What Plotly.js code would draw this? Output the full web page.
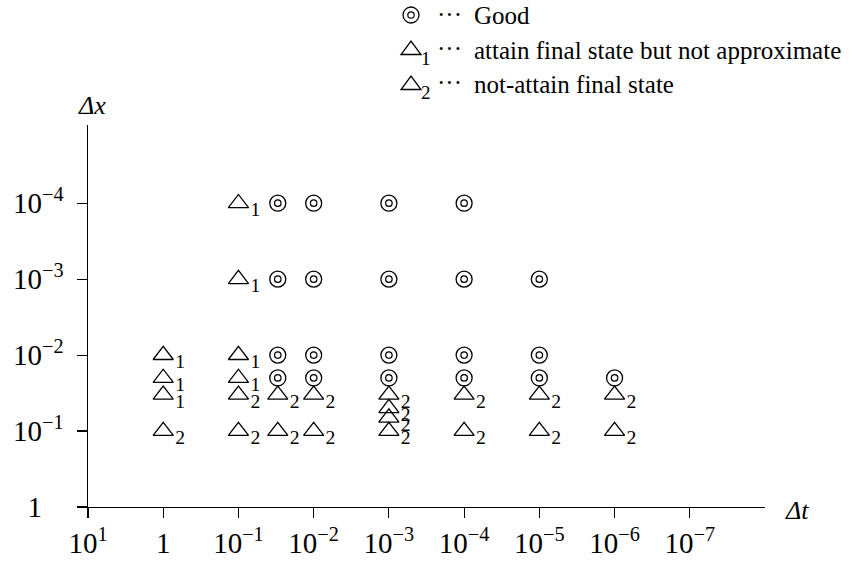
<!DOCTYPE html>
<html><head><meta charset="utf-8">
<script src="https://cdn.plot.ly/plotly-3.0.1.min.js"></script>
<style>html,body{margin:0;padding:0;background:#fff}#chart{width:857px;height:564px}</style>
</head><body><div id="chart"></div>
<script>
// ---- data (Δt, Δx pairs by outcome) ----
const goodDt = [0.03,0.03,0.03,0.03, 0.01,0.01,0.01,0.01, 1e-3,1e-3,1e-3,1e-3, 1e-4,1e-4,1e-4,1e-4, 1e-5,1e-5,1e-5, 1e-6];
const goodDx = [1e-4,1e-3,1e-2,2e-2, 1e-4,1e-3,1e-2,2e-2, 1e-4,1e-3,1e-2,2e-2, 1e-4,1e-3,1e-2,2e-2, 1e-3,1e-2,2e-2, 2e-2];
const tri1Dt = [1,1,1, 0.1,0.1,0.1,0.1];
const tri1Dx = [1e-2,2e-2,1/30, 1e-4,1e-3,1e-2,2e-2];
const tri2Dt = [1, 0.1,0.1, 0.03,0.03, 0.01,0.01, 1e-3,1e-3,1e-3,1e-3, 1e-4,1e-4, 1e-5,1e-5, 1e-6,1e-6];
const tri2Dx = [0.1, 1/30,0.1, 1/30,0.1, 1/30,0.1, 1/30,0.05,1/15,0.1, 1/30,0.1, 1/30,0.1, 1/30,0.1];
const xTickVals = [10,1,0.1,0.01,1e-3,1e-4,1e-5,1e-6,1e-7];
const xTickText = ['10<sup>1</sup>','1','10<sup>−1</sup>','10<sup>−2</sup>','10<sup>−3</sup>','10<sup>−4</sup>','10<sup>−5</sup>','10<sup>−6</sup>','10<sup>−7</sup>'];
const yTickVals = [1,0.1,0.01,1e-3,1e-4];
const yTickText = ['1\u00A0\u00A0\u00A0\u00A0','10<sup>−1</sup>\u00A0','10<sup>−2</sup>\u00A0','10<sup>−3</sup>\u00A0','10<sup>−4</sup>\u00A0'];
const legendLabels = ['Good','attain final state but not approximate','not-attain final state'];
const legendSubs = ['', '1', '2'];
const xTitle = 'Δt', yTitle = 'Δx';

// ---- layout geometry ----
const W = 857, H = 564, L = 88, R = 765, T = 125, B = 507;
const SERIF = 'Liberation Serif, Times New Roman, serif';
const pxX = p => (p - L) / (R - L);
const pxY = p => (B - p) / (B - T);
const X_RANGE = [1, -8], Y_RANGE = [0, -5.03];

const triStyle = {symbol:'triangle-up-open', size:17.5, color:'black', line:{color:'black', width:1.3}};
const traces = [
  {x: tri1Dt, y: tri1Dx, mode:'markers+text', type:'scatter', marker: triStyle,
   text: tri1Dt.map(() => '<sub>1</sub>'), textposition:'middle right',
   textfont:{family:SERIF, size:28, color:'black'}, hoverinfo:'skip'},
  {x: tri2Dt, y: tri2Dx, mode:'markers+text', type:'scatter', marker: triStyle,
   text: tri2Dt.map(() => '<sub>2</sub>'), textposition:'middle right',
   textfont:{family:SERIF, size:28, color:'black'}, hoverinfo:'skip'},
  {x: goodDt, y: goodDx, mode:'markers', type:'scatter',
   marker:{symbol:'circle-open', size:16, color:'black', line:{color:'black', width:1.3}}, hoverinfo:'skip'},
  {x: goodDt, y: goodDx, mode:'markers', type:'scatter', xaxis:'x2', yaxis:'y2',
   marker:{symbol:'circle-open', size:6.5, color:'black', line:{color:'black', width:1.2}}, hoverinfo:'skip'}
];

const axisCommon = {
  type:'log', showline:true, linecolor:'black', linewidth:1.3,
  ticks:'outside', ticklen:10, tickwidth:1.2, tickcolor:'black',
  showgrid:false, zeroline:false, tickmode:'array',
  tickfont:{family:SERIF, size:29, color:'black'}, fixedrange:true
};
const tickOnly = {
  type:'log', showline:false, showticklabels:false,
  ticks:'outside', ticklen:10, tickwidth:1.2, tickcolor:'black',
  showgrid:false, zeroline:false, tickmode:'array', fixedrange:true
};

const shapes = [];
const annotations = [];
const legendRows = [15, 49, 84];
const symX = 411;
const LEGFONT = 25;
shapes.push({type:'circle', xref:'paper', yref:'paper', xsizemode:'pixel', ysizemode:'pixel',
  xanchor:pxX(symX), yanchor:pxY(legendRows[0]), x0:-8, x1:8, y0:-8, y1:8, line:{color:'black', width:1.3}});
shapes.push({type:'circle', xref:'paper', yref:'paper', xsizemode:'pixel', ysizemode:'pixel',
  xanchor:pxX(symX), yanchor:pxY(legendRows[0]), x0:-3.2, x1:3.2, y0:-3.2, y1:3.2, line:{color:'black', width:1.2}});
for (let i = 1; i < 3; i++) {
  shapes.push({type:'path', xref:'paper', yref:'paper', xsizemode:'pixel', ysizemode:'pixel',
    xanchor:pxX(symX), yanchor:pxY(legendRows[i]), path:'M -10 -5.5 L 10 -5.5 L 0 8 Z',
    line:{color:'black', width:1.3}});
  annotations.push({xref:'paper', yref:'paper', x:pxX(symX + 15), y:pxY(legendRows[i] + 9),
    text:legendSubs[i], showarrow:false, xanchor:'center', yanchor:'middle',
    font:{family:SERIF, size:19, color:'black'}});
}
for (let i = 0; i < 3; i++) {
  annotations.push({xref:'paper', yref:'paper', x:pxX(449), y:pxY(legendRows[i] - 1),
    text:'···', showarrow:false, xanchor:'center', yanchor:'middle',
    font:{family:SERIF, size:LEGFONT, color:'black'}});
  annotations.push({xref:'paper', yref:'paper', x:pxX(472), y:pxY(legendRows[i] + 1),
    text:legendLabels[i], showarrow:false, xanchor:'left', yanchor:'middle',
    font:{family:SERIF, size:LEGFONT, color:'black'}});
}
annotations.push({xref:'paper', yref:'paper', x:0, y:1, xshift:4, yshift:20, text:'<i>'+yTitle+'</i>',
  showarrow:false, xanchor:'center', yanchor:'middle', font:{family:SERIF, size:26, color:'black'}});
annotations.push({xref:'paper', yref:'paper', x:1, y:0, xshift:32, yshift:-3, text:'<i>'+xTitle+'</i>',
  showarrow:false, xanchor:'center', yanchor:'middle', font:{family:SERIF, size:26, color:'black'}});

const layout = {
  width:W, height:H, margin:{l:L, r:W-R, t:T, b:H-B, pad:0},
  paper_bgcolor:'white', plot_bgcolor:'white', showlegend:false,
  xaxis: Object.assign({}, axisCommon, {range:X_RANGE, tickvals:xTickVals, ticktext:xTickText}),
  yaxis: Object.assign({}, axisCommon, {range:Y_RANGE, tickvals:yTickVals, ticktext:yTickText}),
  xaxis2: Object.assign({}, tickOnly, {range:X_RANGE, tickvals:xTickVals, overlaying:'x', anchor:'y2', side:'bottom'}),
  yaxis2: Object.assign({}, tickOnly, {range:Y_RANGE, tickvals:yTickVals, overlaying:'y', anchor:'x2', side:'left'}),
  shapes: shapes, annotations: annotations
};
Plotly.newPlot('chart', traces, layout, {displayModeBar:false, staticPlot:true});
</script>
</body></html>
